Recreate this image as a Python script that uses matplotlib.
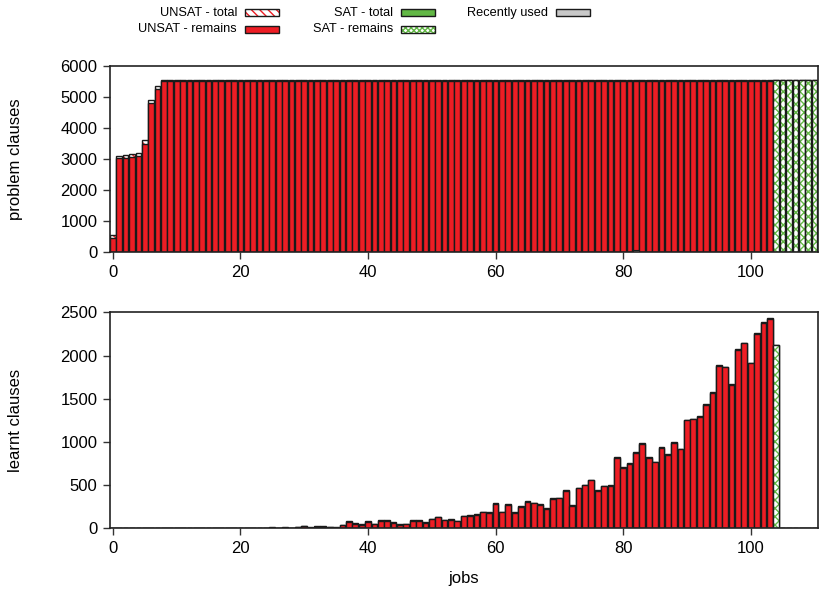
import matplotlib
matplotlib.use("Agg")
import matplotlib.pyplot as plt
from matplotlib.patches import Rectangle
import numpy as np

plt.rcParams["font.family"] = ["Liberation Sans", "DejaVu Sans"]
plt.rcParams["hatch.linewidth"] = 1.0

# ---- data -------------------------------------------------------------
unsat_jobs = list(range(0, 104))
sat_jobs = list(range(104, 111))

problem_unsat_total = [
    570, 3100, 3130, 3160, 3185, 3615, 4900, 5355,
    5550, 5550, 5550, 5550, 5550, 5550, 5550, 5550, 5550, 5550, 5550, 5550,
    5550, 5550, 5550, 5550, 5550, 5550, 5550, 5550, 5550, 5550, 5550, 5550,
    5550, 5550, 5550, 5550, 5550, 5550, 5550, 5550, 5550, 5550, 5550, 5550,
    5550, 5550, 5550, 5550, 5550, 5550, 5550, 5550, 5550, 5550, 5550, 5550,
    5550, 5550, 5550, 5550, 5550, 5550, 5550, 5550, 5550, 5550, 5550, 5550,
    5550, 5550, 5550, 5550, 5550, 5550, 5550, 5550, 5550, 5550, 5550, 5550,
    5550, 5550, 5550, 5550, 5550, 5550, 5550, 5550, 5550, 5550, 5550, 5550,
    5550, 5550, 5550, 5550, 5550, 5550, 5550, 5550, 5550, 5550, 5550, 5550,
]
problem_unsat_remains = [
    450, 3020, 3040, 3070, 3090, 3490, 4800, 5250,
    5520, 5520, 5520, 5520, 5520, 5520, 5520, 5520, 5520, 5520, 5520, 5520,
    5520, 5520, 5520, 5520, 5520, 5520, 5520, 5520, 5520, 5520, 5520, 5520,
    5520, 5520, 5520, 5520, 5520, 5520, 5520, 5520, 5520, 5520, 5520, 5520,
    5520, 5520, 5520, 5520, 5520, 5520, 5520, 5520, 5520, 5520, 5520, 5520,
    5520, 5520, 5520, 5520, 5520, 5520, 5520, 5520, 5520, 5520, 5520, 5520,
    5520, 5520, 5520, 5520, 5520, 5520, 5520, 5520, 5520, 5520, 5520, 5520,
    5520, 5520, 5520, 5520, 5520, 5520, 5520, 5520, 5520, 5520, 5520, 5520,
    5520, 5520, 5520, 5520, 5520, 5520, 5520, 5520, 5520, 5520, 5520, 5520,
]
problem_sat_total = [5550, 5550, 5550, 5550, 5550, 5550, 5550]
problem_sat_remains = [5550, 5550, 5550, 5550, 5550, 5550, 5550]
problem_recent_jobs = [82]
problem_recent = [60]

learnt_unsat_remains = [
    0, 0, 0, 0, 0, 0, 0, 0, 0, 0,
    0, 0, 2, 2, 2, 2, 2, 2, 2, 2,
    4, 3, 4, 5, 4, 6, 5, 9, 5, 10,
    23, 8, 19, 19, 11, 8, 34, 73, 46, 34,
    73, 46, 88, 90, 57, 34, 46, 88, 88, 65,
    104, 127, 92, 96, 81, 139, 143, 158, 185, 181,
    278, 185, 266, 177, 252, 305, 289, 266, 220, 335,
    347, 435, 258, 463, 497, 555, 435, 486, 493, 810,
    701, 750, 868, 980, 810, 764, 933, 849, 984, 914,
    1250, 1261, 1285, 1427, 1562, 1878, 1863, 1659, 2067, 2141,
    1910, 2253, 2372, 2422,
]
learnt_unsat_total = [
    0, 0, 0, 0, 0, 0, 0, 0, 0, 0,
    0, 0, 5, 5, 5, 5, 5, 5, 5, 5,
    8, 7, 8, 9, 8, 10, 9, 14, 9, 15,
    30, 14, 26, 26, 18, 14, 42, 82, 56, 50,
    80, 55, 96, 100, 70, 45, 55, 98, 96, 78,
    112, 136, 100, 106, 90, 148, 152, 166, 194, 190,
    288, 194, 276, 190, 262, 315, 298, 276, 232, 345,
    356, 445, 268, 472, 506, 564, 445, 495, 502, 820,
    710, 758, 878, 990, 820, 772, 942, 858, 994, 922,
    1258, 1270, 1295, 1436, 1572, 1888, 1872, 1668, 2076, 2150,
    1918, 2262, 2382, 2432,
]
learnt_sat_total = [2125, 0, 0, 0, 0, 0, 0]
learnt_sat_remains = [2125, 0, 0, 0, 0, 0, 0]

x_ticks = [0, 20, 40, 60, 80, 100]
problem_y_ticks = [0, 1000, 2000, 3000, 4000, 5000, 6000]
learnt_y_ticks = [0, 500, 1000, 1500, 2000, 2500]

# ---- style ------------------------------------------------------------
RED = "#ee1d24"
GREEN = "#62b845"
GREY = "#c8c8c8"
EDGE = "#1a1a1a"
BAR_W = 0.9
TICK_FS = 12
LEGEND_FS = 9.2

fig = plt.figure(figsize=(8.21, 5.91), dpi=100)
W, H = 821.0, 591.0


def axes_px(left, top, right, bottom):
    return fig.add_axes([left / W, 1 - bottom / H, (right - left) / W, (bottom - top) / H])


ax1 = axes_px(110, 65.7, 817.7, 252.3)
ax2 = axes_px(110, 312.3, 817.7, 528.3)


def hatched_bars(ax, x, h, color, hatch):
    ax.bar(x, h, width=BAR_W, facecolor="white", edgecolor=color, hatch=hatch, linewidth=0)
    ax.bar(x, h, width=BAR_W, facecolor="none", edgecolor=EDGE, linewidth=1.0)


def draw_panel(ax, unsat_total, unsat_remains, sat_total, sat_remains):
    hatched_bars(ax, unsat_jobs, unsat_total, RED, "\\\\\\")
    ax.bar(unsat_jobs, unsat_remains, width=BAR_W, color=RED, edgecolor=EDGE, linewidth=1.0)
    ax.bar(sat_jobs, sat_total, width=BAR_W, color=GREEN, edgecolor=EDGE, linewidth=1.0)
    hatched_bars(ax, sat_jobs, sat_remains, GREEN, "xxxx")


draw_panel(ax1, problem_unsat_total, problem_unsat_remains, problem_sat_total, problem_sat_remains)
ax1.bar(problem_recent_jobs, problem_recent, width=BAR_W, color=GREY, edgecolor=EDGE, linewidth=0.8)
draw_panel(ax2, learnt_unsat_total, learnt_unsat_remains, learnt_sat_total, learnt_sat_remains)

for ax, yt, ylab in ((ax1, problem_y_ticks, "problem clauses"), (ax2, learnt_y_ticks, "learnt clauses")):
    ax.set_xlim(-0.45, 110.5)
    ax.set_ylim(yt[0], yt[-1])
    ax.set_xticks(x_ticks)
    ax.set_yticks(yt)
    ax.tick_params(direction="out", length=5, width=1, colors="#333333",
                   labelcolor="black", labelsize=TICK_FS, pad=4,
                   top=False, right=False)
    for s in ax.spines.values():
        s.set_linewidth(1.2)
        s.set_color("#222222")
    ax.set_ylabel(ylab, fontsize=TICK_FS)
    ax.yaxis.set_label_coords(-87 / 707.7, 0.5)

ax2.set_xlabel("jobs", fontsize=TICK_FS, labelpad=11)

# ---- legend (text right-aligned, swatch to the right) -----------------
legend_items = [
    ("UNSAT - total", 237, 12.7, "white", RED, "\\\\\\\\"),
    ("UNSAT - remains", 237, 29.3, RED, None, None),
    ("SAT - total", 393, 12.7, GREEN, None, None),
    ("SAT - remains", 393, 29.3, "white", GREEN, "xxxxxx"),
    ("Recently used", 548, 12.7, GREY, None, None),
]
SW_W, SW_H = 34, 7
for label, xr, yc, face, hcol, hatch in legend_items:
    fig.text(xr / W, 1 - yc / H, label, ha="right", va="center", fontsize=LEGEND_FS)
    x0 = (xr + 8) / W
    y0 = 1 - (yc + SW_H / 2) / H
    if hatch:
        fig.patches.append(Rectangle((x0, y0), SW_W / W, SW_H / H, transform=fig.transFigure,
                                     facecolor=face, edgecolor=hcol, hatch=hatch, linewidth=0))
        fig.patches.append(Rectangle((x0, y0), SW_W / W, SW_H / H, transform=fig.transFigure,
                                     facecolor="none", edgecolor=EDGE, linewidth=1.0))
    else:
        fig.patches.append(Rectangle((x0, y0), SW_W / W, SW_H / H, transform=fig.transFigure,
                                     facecolor=face, edgecolor=EDGE, linewidth=1.0))

fig.savefig("out.png", dpi=100)
